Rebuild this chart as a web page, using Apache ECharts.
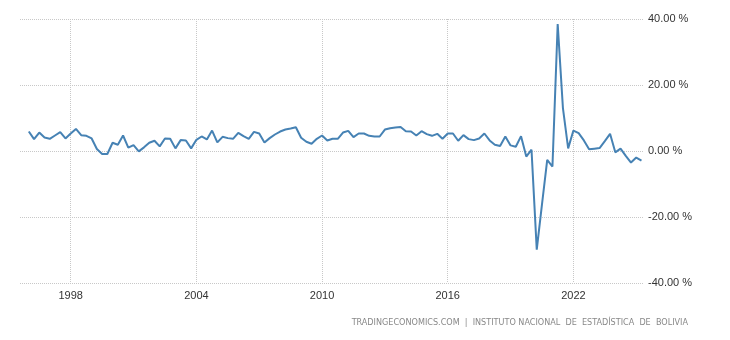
<!DOCTYPE html>
<html>
<head>
<meta charset="utf-8">
<script src="https://cdn.jsdelivr.net/npm/echarts@6/dist/echarts.min.js"></script>
<style>
html,body{margin:0;padding:0;background:#fff;}
#chart{width:730px;height:340px;}
</style>
</head>
<body>
<div id="chart"></div>
<script>
// Bolivia GDP annual growth rate, quarterly, starting 1996 Q1
const startYear = 1996;
const growthValues = [
  5.9, 3.6, 5.6, 4.1, 3.7, 4.7, 5.7, 3.8,
  5.3, 6.7, 4.8, 4.6, 3.8, 0.6, -0.9, -0.9,
  2.5, 1.9, 4.7, 1.0, 1.8, -0.1, 1.1, 2.5,
  3.1, 1.4, 3.8, 3.7, 0.8, 3.3, 3.2, 0.8,
  3.4, 4.4, 3.5, 6.2, 2.6, 4.3, 3.9, 3.7,
  5.5, 4.5, 3.7, 5.8, 5.3, 2.6, 3.9, 5.0,
  5.9, 6.5, 6.8, 7.2, 4.0, 2.8, 2.2, 3.7,
  4.7, 3.2, 3.7, 3.7, 5.6, 6.1, 4.2, 5.3,
  5.3, 4.6, 4.4, 4.4, 6.5, 6.9, 7.1, 7.3,
  6.0, 5.9, 4.7, 6.0, 5.1, 4.6, 5.2, 3.7,
  5.3, 5.3, 3.1, 4.8, 3.6, 3.3, 3.8, 5.3,
  3.2, 1.9, 1.5, 4.4, 1.7, 1.3, 4.5, -1.7,
  0.4, -29.9, -16.2, -2.7, -4.7, 38.5, 13.0, 0.8,
  6.2, 5.4, 3.2, 0.5, 0.7, 0.9, 3.0, 5.2,
  -0.4, 0.7, -1.5, -3.5, -2.0, -2.9
];
const xTickYears = [1998, 2004, 2010, 2016, 2022];
const yTicks = [-40, -20, 0, 20, 40];
const sourceText = 'TRADINGECONOMICS.COM  |  INSTITUTO NACIONAL  DE  ESTADÍSTICA  DE  BOLIVIA';

// quarter positions as fractional years (Q1 = year start)
const quarterPositions = growthValues.map((v, i) => startYear + Math.floor(i / 4) + (i % 4) / 4);
const seriesData = growthValues.map((v, i) => [quarterPositions[i], v]);

const chart = echarts.init(document.getElementById('chart'), null, {renderer: 'canvas'});
const gridColor = '#c8c8c8';
chart.setOption({
  animation: false,
  backgroundColor: '#ffffff',
  grid: {left: 20, right: 86, top: 19, bottom: 57, containLabel: false},
  xAxis: {
    type: 'value',
    min: 1995.5795,
    max: 2025.3705,
    axisLine: {show: false},
    axisTick: {show: true, customValues: xTickYears, length: 5, lineStyle: {color: gridColor, type: 'dotted', width: 1}},
    axisLabel: {
      customValues: xTickYears,
      formatter: v => String(Math.round(v)),
      color: '#333',
      fontFamily: 'Liberation Sans, Arial, sans-serif',
      fontSize: 11,
      margin: 7
    },
    splitLine: {show: true, lineStyle: {color: gridColor, type: 'dotted', width: 1}}
  },
  yAxis: {
    type: 'value',
    position: 'right',
    min: yTicks[0],
    max: yTicks[yTicks.length - 1],
    interval: 20,
    axisLine: {show: false},
    axisTick: {show: false},
    axisLabel: {
      formatter: v => v.toFixed(2) + ' %',
      color: '#333',
      fontFamily: 'Liberation Sans, Arial, sans-serif',
      fontSize: 11,
      margin: 4
    },
    splitLine: {show: true, lineStyle: {color: gridColor, type: 'dotted', width: 1}}
  },
  series: [{
    type: 'line',
    data: seriesData,
    showSymbol: false,
    symbol: 'none',
    lineStyle: {color: '#4682b4', width: 2},
    itemStyle: {color: '#4682b4'}
  }],
  graphic: [{
    type: 'text',
    right: 42,
    top: 318,
    style: {
      text: sourceText,
      fill: '#888',
      fontSize: 9,
      fontFamily: 'Liberation Sans Narrow, DejaVu Sans Condensed, Arial, sans-serif'
    }
  }]
});
</script>
</body>
</html>
